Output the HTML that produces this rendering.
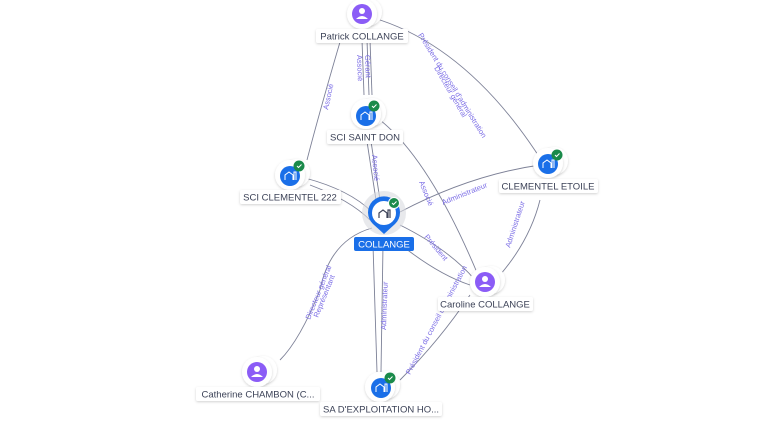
<!DOCTYPE html>
<html><head><meta charset="utf-8"><style>
html,body{margin:0;padding:0;background:#fff}
svg{display:block}
text{font-family:"Liberation Sans",sans-serif}
.lbl{font-size:9.5px;fill:#3c4257}
.el{font-size:7.5px;fill:#7c6ee6}
</style></head><body>
<svg width="768" height="432" viewBox="0 0 768 432" xmlns="http://www.w3.org/2000/svg">
<defs>
<filter id="sh" x="-50%" y="-50%" width="200%" height="200%"><feDropShadow dx="0" dy="1" stdDeviation="1.2" flood-color="#000" flood-opacity="0.18"/></filter>
</defs>
<rect width="768" height="432" fill="#fff"/>
<g fill="none" stroke="#7d8197" stroke-width="0.9">
<path d="M340 42 Q320 110 307 160"/>
<path d="M362 40 L364 95"/>
<path d="M367 40 L369 95"/>
<path d="M370 40 L372 95"/>
<path d="M380 20 Q470 50 540 158"/>
<path d="M366 135 L376 200"/>
<path d="M370 135 L380 200"/>
<path d="M380 120 Q430 160 478 275"/>
<path d="M305 178 Q350 190 372 212"/>
<path d="M310 185 Q350 200 370 220"/>
<path d="M400 212 Q470 175 540 165"/>
<path d="M540 200 Q530 240 500 275"/>
<path d="M400 225 Q450 250 475 280"/>
<path d="M405 248 Q440 275 470 285"/>
<path d="M372 228 Q330 240 320 290 Q300 340 280 360"/>
<path d="M373 245 L377 372"/>
<path d="M383 245 L381 372"/>
<path d="M400 380 Q440 340 470 295"/>
</g>
<g class="el">
<text transform="translate(328,110) rotate(-78)">Associé</text>
<text transform="translate(357,55) rotate(88)">Associé</text>
<text transform="translate(365,55) rotate(88)">Gérant</text>
<text transform="translate(418,35) rotate(58)">Président du conseil d'administration</text>
<text transform="translate(434,68) rotate(60)">Directeur général</text>
<text transform="translate(372,155) rotate(85)">Associé</text>
<text transform="translate(419,182) rotate(68)">Associé</text>
<text transform="translate(443,205) rotate(-22)">Administrateur</text>
<text transform="translate(510,248) rotate(-72)">Administrateur</text>
<text transform="translate(424,237) rotate(50)">Président</text>
<text transform="translate(310,320) rotate(-68)">Directeur général</text>
<text transform="translate(318,318) rotate(-68)">Représentant</text>
<text transform="translate(386,330) rotate(-88)">Administrateur</text>
<text transform="translate(410,375) rotate(-62)">Président du conseil d'administration</text>
</g>
<!-- person nodes -->
<g>
<circle cx="368" cy="12" r="14" fill="#fff" filter="url(#sh)"/>
<circle cx="362" cy="14" r="15" fill="#fff" filter="url(#sh)"/>
<circle cx="362" cy="14" r="10" fill="#8b5cf6"/>
<circle cx="491" cy="280" r="14" fill="#fff" filter="url(#sh)"/>
<circle cx="485" cy="282" r="15" fill="#fff" filter="url(#sh)"/>
<circle cx="485" cy="282" r="10" fill="#8b5cf6"/>
<circle cx="263" cy="370" r="14" fill="#fff" filter="url(#sh)"/>
<circle cx="257" cy="372" r="15" fill="#fff" filter="url(#sh)"/>
<circle cx="257" cy="372" r="10" fill="#8b5cf6"/>
</g>
<g fill="#fff">
<circle cx="362" cy="11" r="3"/><path d="M356 19 Q362 13 368 19Z"/>
<circle cx="485" cy="279" r="3"/><path d="M479 287 Q485 281 491 287Z"/>
<circle cx="257" cy="369" r="3"/><path d="M251 377 Q257 371 263 377Z"/>
</g>
<!-- company nodes -->
<g>
<circle cx="372" cy="112" r="14" fill="#fff" filter="url(#sh)"/>
<circle cx="366" cy="114" r="15" fill="#fff" filter="url(#sh)"/>
<circle cx="366" cy="116" r="10" fill="#1a6fe8"/>
<circle cx="374" cy="106" r="5.5" fill="#1a8a4a"/>
<circle cx="296" cy="173" r="14" fill="#fff" filter="url(#sh)"/>
<circle cx="290" cy="175" r="15" fill="#fff" filter="url(#sh)"/>
<circle cx="290" cy="176" r="10" fill="#1a6fe8"/>
<circle cx="299" cy="166" r="5.5" fill="#1a8a4a"/>
<circle cx="554" cy="161" r="14" fill="#fff" filter="url(#sh)"/>
<circle cx="548" cy="163" r="15" fill="#fff" filter="url(#sh)"/>
<circle cx="548" cy="164" r="10" fill="#1a6fe8"/>
<circle cx="557" cy="155" r="5.5" fill="#1a8a4a"/>
<circle cx="386" cy="385" r="14" fill="#fff" filter="url(#sh)"/>
<circle cx="380" cy="387" r="15" fill="#fff" filter="url(#sh)"/>
<circle cx="381" cy="388" r="10" fill="#1a6fe8"/>
<circle cx="390" cy="378" r="5.5" fill="#1a8a4a"/>
</g>
<g fill="none" stroke="#fff" stroke-width="1">
<path d="M361 120 v-5 l4 -3 4 3 v5 M370 120 v-8 h2 v8"/>
<path d="M285 180 v-5 l4 -3 4 3 v5 M294 180 v-8 h2 v8"/>
<path d="M543 168 v-5 l4 -3 4 3 v5 M552 168 v-8 h2 v8"/>
<path d="M376 392 v-5 l4 -3 4 3 v5 M385 392 v-8 h2 v8"/>
<path d="M372 106 l1.5 1.5 3 -3 M297 166 l1.5 1.5 3 -3 M555 155 l1.5 1.5 3 -3 M388 378 l1.5 1.5 3 -3"/>
</g>
<!-- main pin -->
<circle cx="384" cy="213" r="22" fill="#d9dbe0" opacity="0.6"/>
<path d="M384 234 L373 224 A16 16 0 1 1 395 224 Z" fill="#1a6fe8"/>
<circle cx="384" cy="213" r="12" fill="#fff"/>
<path d="M379 218 v-5 l4 -3 4 3 v5 M388 218 v-8 h2 v8" fill="none" stroke="#3c4257" stroke-width="1.2"/>
<circle cx="394" cy="203" r="5.5" fill="#1a8a4a" stroke="#fff" stroke-width="1"/>
<path d="M392 203 l1.5 1.5 3 -3" fill="none" stroke="#fff" stroke-width="1"/>
<rect x="354" y="237" width="60" height="14" rx="2" fill="#1a6fe8"/>
<text x="384" y="247.5" text-anchor="middle" font-size="9.5" fill="#fff">COLLANGE</text>
<!-- labels -->
<g filter="url(#sh)" fill="#fff">
<rect x="316" y="29" width="92" height="14" rx="2"/>
<rect x="327" y="130" width="76" height="14" rx="2"/>
<rect x="240" y="190" width="101" height="14" rx="2"/>
<rect x="499" y="179" width="99" height="14" rx="2"/>
<rect x="438" y="297" width="95" height="14" rx="2"/>
<rect x="196" y="387" width="124" height="14" rx="2"/>
<rect x="320" y="402" width="122" height="14" rx="2"/>
</g>
<g class="lbl" text-anchor="middle">
<text x="362" y="39.5">Patrick COLLANGE</text>
<text x="365" y="140.5">SCI SAINT DON</text>
<text x="290" y="200.5">SCI CLEMENTEL 222</text>
<text x="548" y="189.5">CLEMENTEL ETOILE</text>
<text x="485" y="307.5">Caroline COLLANGE</text>
<text x="258" y="397.5">Catherine CHAMBON (C...</text>
<text x="381" y="412.5">SA D'EXPLOITATION HO...</text>
</g>
</svg>
</body></html>
